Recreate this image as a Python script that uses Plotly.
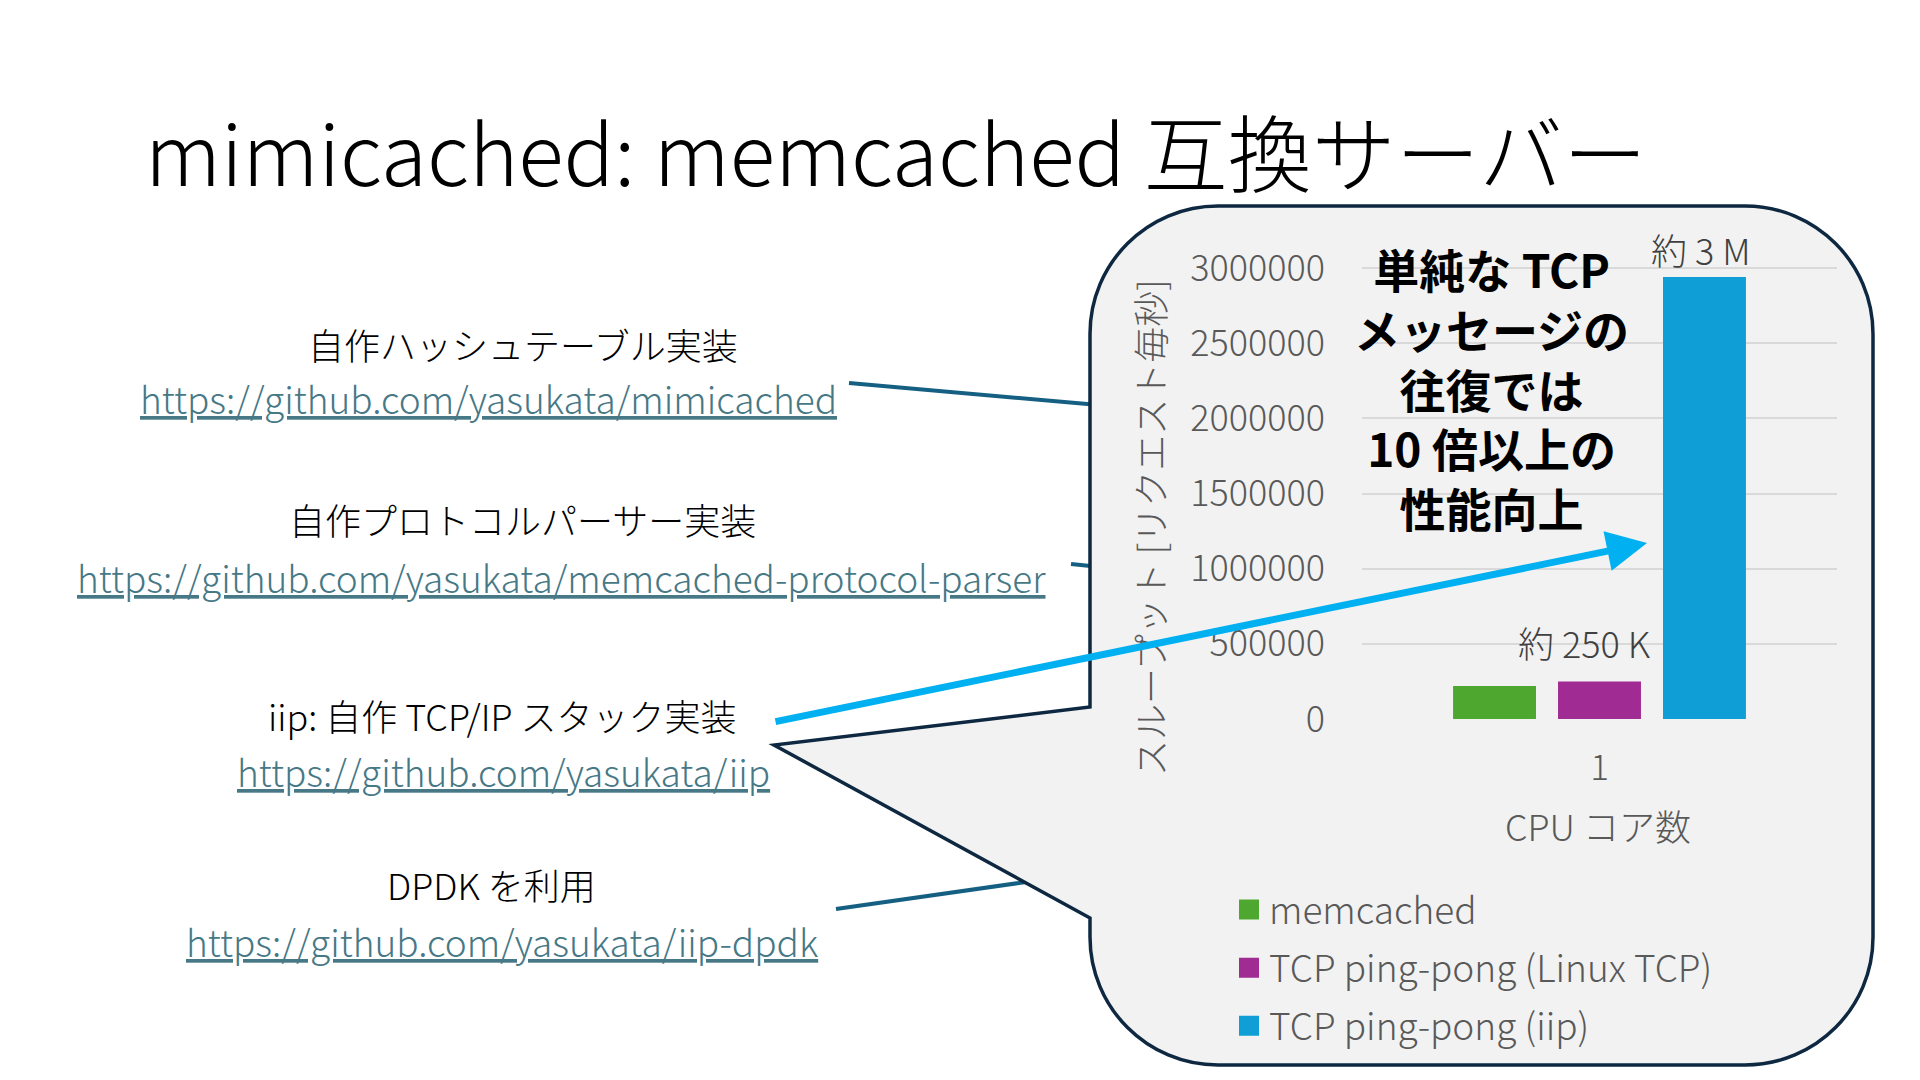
import plotly.graph_objects as go

# ---------------- data ----------------
categories = ["1"]
memcached = [220000]
linux_tcp = [250000]
iip_tcp = [2940000]
series_names = ["memcached", "TCP ping-pong (Linux TCP)", "TCP ping-pong (iip)"]
series_colors = ["#4EA72E", "#A02B93", "#0F9ED5"]
y_ticks = [0, 500000, 1000000, 1500000, 2000000, 2500000, 3000000]

title_text = "mimicached: memcached 互換サーバー"
items = [
    ("自作ハッシュテーブル実装", "https://github.com/yasukata/mimicached"),
    ("自作プロトコルパーサー実装", "https://github.com/yasukata/memcached-protocol-parser"),
    ("iip: 自作 TCP/IP スタック実装", "https://github.com/yasukata/iip"),
    ("DPDK を利用", "https://github.com/yasukata/iip-dpdk"),
]
callout_lines = ["単純な TCP", "メッセージの", "往復では", "10 倍以上の", "性能向上"]
label_3m = "約 3 M"
label_250k = "約 250 K"
y_title = "スループット [リクエスト毎秒]"
x_title = "CPU コア数"

W, H = 1920, 1080
FONT = "Noto Sans CJK JP"


def X(px):
    return px / W


def Y(py):
    return 1 - py / H


fig = go.Figure()
for name, vals, col in zip(series_names, [memcached, linux_tcp, iip_tcp], series_colors):
    fig.add_trace(go.Bar(x=categories, y=vals, name=name, marker=dict(color=col, line=dict(width=0)),
                         legendgroup=name, showlegend=False))
# legend entries (square swatches like the original legend)
for name, col in zip(series_names, series_colors):
    fig.add_trace(go.Scatter(x=[None], y=[None], mode="markers", name=name, legendgroup=name,
                             marker=dict(symbol="square", size=16, color=col, line=dict(color=col, width=4)),
                             showlegend=True, hoverinfo="skip"))

# ---------------- shapes ----------------
shapes = []
conn_col = "#156082"
for (x0, y0, x1, y1) in [(849, 383, 1110, 406), (1071, 564, 1110, 568), (836, 909, 1040, 880)]:
    shapes.append(dict(type="line", xref="paper", yref="paper", x0=X(x0), y0=Y(y0), x1=X(x1), y1=Y(y1),
                       line=dict(color=conn_col, width=4), layer="below"))

L, R, T, B, r = 1090, 1873, 206, 1065, 128
k = 0.5523 * r


def P(px, py):
    return f"{X(px):.5f},{Y(py):.5f}"


path = (
    f"M{P(L, T + r)} C{P(L, T + r - k)} {P(L + r - k, T)} {P(L + r, T)} "
    f"L{P(R - r, T)} C{P(R - r + k, T)} {P(R, T + r - k)} {P(R, T + r)} "
    f"L{P(R, B - r)} C{P(R, B - r + k)} {P(R - r + k, B)} {P(R - r, B)} "
    f"L{P(L + r, B)} C{P(L + r - k, B)} {P(L, B - r + k)} {P(L, B - r)} "
    f"L{P(L, 918)} L{P(774, 745)} L{P(L, 707)} Z"
)
shapes.append(dict(type="path", xref="paper", yref="paper", path=path,
                   fillcolor="#F2F2F2", line=dict(color="#0E2841", width=3.5), layer="below"))

# ---------------- annotations ----------------
ann = []
ann.append(dict(x=X(143), y=Y(150), xref="paper", yref="paper", text=title_text, showarrow=False,
                xanchor="left", yanchor="middle", font=dict(family=FONT, size=84, color="#000000", weight=300)))

pos = [((523, 344), (488, 398)), ((522, 519), (561, 577)), ((502, 715), (503, 771)), ((491, 884), (502, 941))]
for (jp, url), ((jx, jy), (ux, uy)) in zip(items, pos):
    ann.append(dict(x=X(jx), y=Y(jy), xref="paper", yref="paper", text=jp, showarrow=False,
                    xanchor="center", yanchor="middle", font=dict(family=FONT, size=36, color="#000000", weight=300)))
    ann.append(dict(x=X(ux), y=Y(uy), xref="paper", yref="paper", text=f"<u>{url}</u>", showarrow=False,
                    xanchor="center", yanchor="middle", font=dict(family=FONT, size=37, color="#467886", weight=300)))

ann.append(dict(x=X(1491), y=Y(387), xref="paper", yref="paper", text="<br>".join(callout_lines),
                showarrow=False, align="center", xanchor="center", yanchor="middle",
                font=dict(family=FONT, size=46, color="#000000", weight=700)))

ann.append(dict(x=X(1701), y=Y(249), xref="paper", yref="paper", text=label_3m, showarrow=False,
                xanchor="center", yanchor="middle", font=dict(family=FONT, size=36, color="#404040", weight=300)))
ann.append(dict(x=X(1584), y=Y(642), xref="paper", yref="paper", text=label_250k, showarrow=False,
                xanchor="center", yanchor="middle", font=dict(family=FONT, size=36, color="#404040", weight=300)))

ann.append(dict(x=X(1149), y=Y(528), xref="paper", yref="paper", text=y_title, showarrow=False, textangle=-90,
                xanchor="center", yanchor="middle", font=dict(family=FONT, size=36, color="#595959", weight=300)))
ann.append(dict(x=X(1598), y=Y(825), xref="paper", yref="paper", text=x_title, showarrow=False,
                xanchor="center", yanchor="middle", font=dict(family=FONT, size=36, color="#595959", weight=300)))

# arrow
ann.append(dict(x=X(1647), y=Y(543), xref="paper", yref="paper", text="", showarrow=True,
                ax=774 - 1647, ay=722 - 543, axref="pixel", ayref="pixel",
                arrowcolor="#00B0F0", arrowwidth=7, arrowhead=2, arrowsize=1.15, standoff=0, startstandoff=0))

y_bottom, y_top_px = 719, 719 - 3.05e6 * (451 / 3e6)

fig.update_layout(
    width=W, height=H, margin=dict(l=0, r=0, t=0, b=0, autoexpand=False),
    paper_bgcolor="#FFFFFF", plot_bgcolor="rgba(0,0,0,0)",
    font=dict(family=FONT, color="#595959"),
    barmode="group", bargap=0.337, bargroupgap=0.21,
    shapes=shapes, annotations=ann,
    showlegend=True,
    legend=dict(x=X(1229), y=Y(879), xanchor="left", yanchor="top", orientation="v",
                bgcolor="rgba(0,0,0,0)", font=dict(family=FONT, size=37, color="#595959", weight=300),
                tracegroupgap=7, traceorder="grouped", itemsizing="trace"),
    xaxis=dict(domain=[X(1362), X(1837)], type="category", showgrid=False, showline=False, zeroline=False,
               ticks="", tickfont=dict(family=FONT, size=35, color="#595959", weight=300), ticklabelstandoff=25),
    yaxis=dict(domain=[Y(y_bottom), Y(y_top_px)], range=[0, 3.05e6], tickvals=y_ticks, tickformat="d",
               showgrid=True, gridcolor="#D9D9D9", gridwidth=1.5, zeroline=False, showline=False, ticks="",
               tickfont=dict(family=FONT, size=36, color="#595959", weight=300), ticklabelstandoff=36),
)

fig.write_html("out.html", config={"displayModeBar": False},
               post_script="document.body.style.margin='0';")
